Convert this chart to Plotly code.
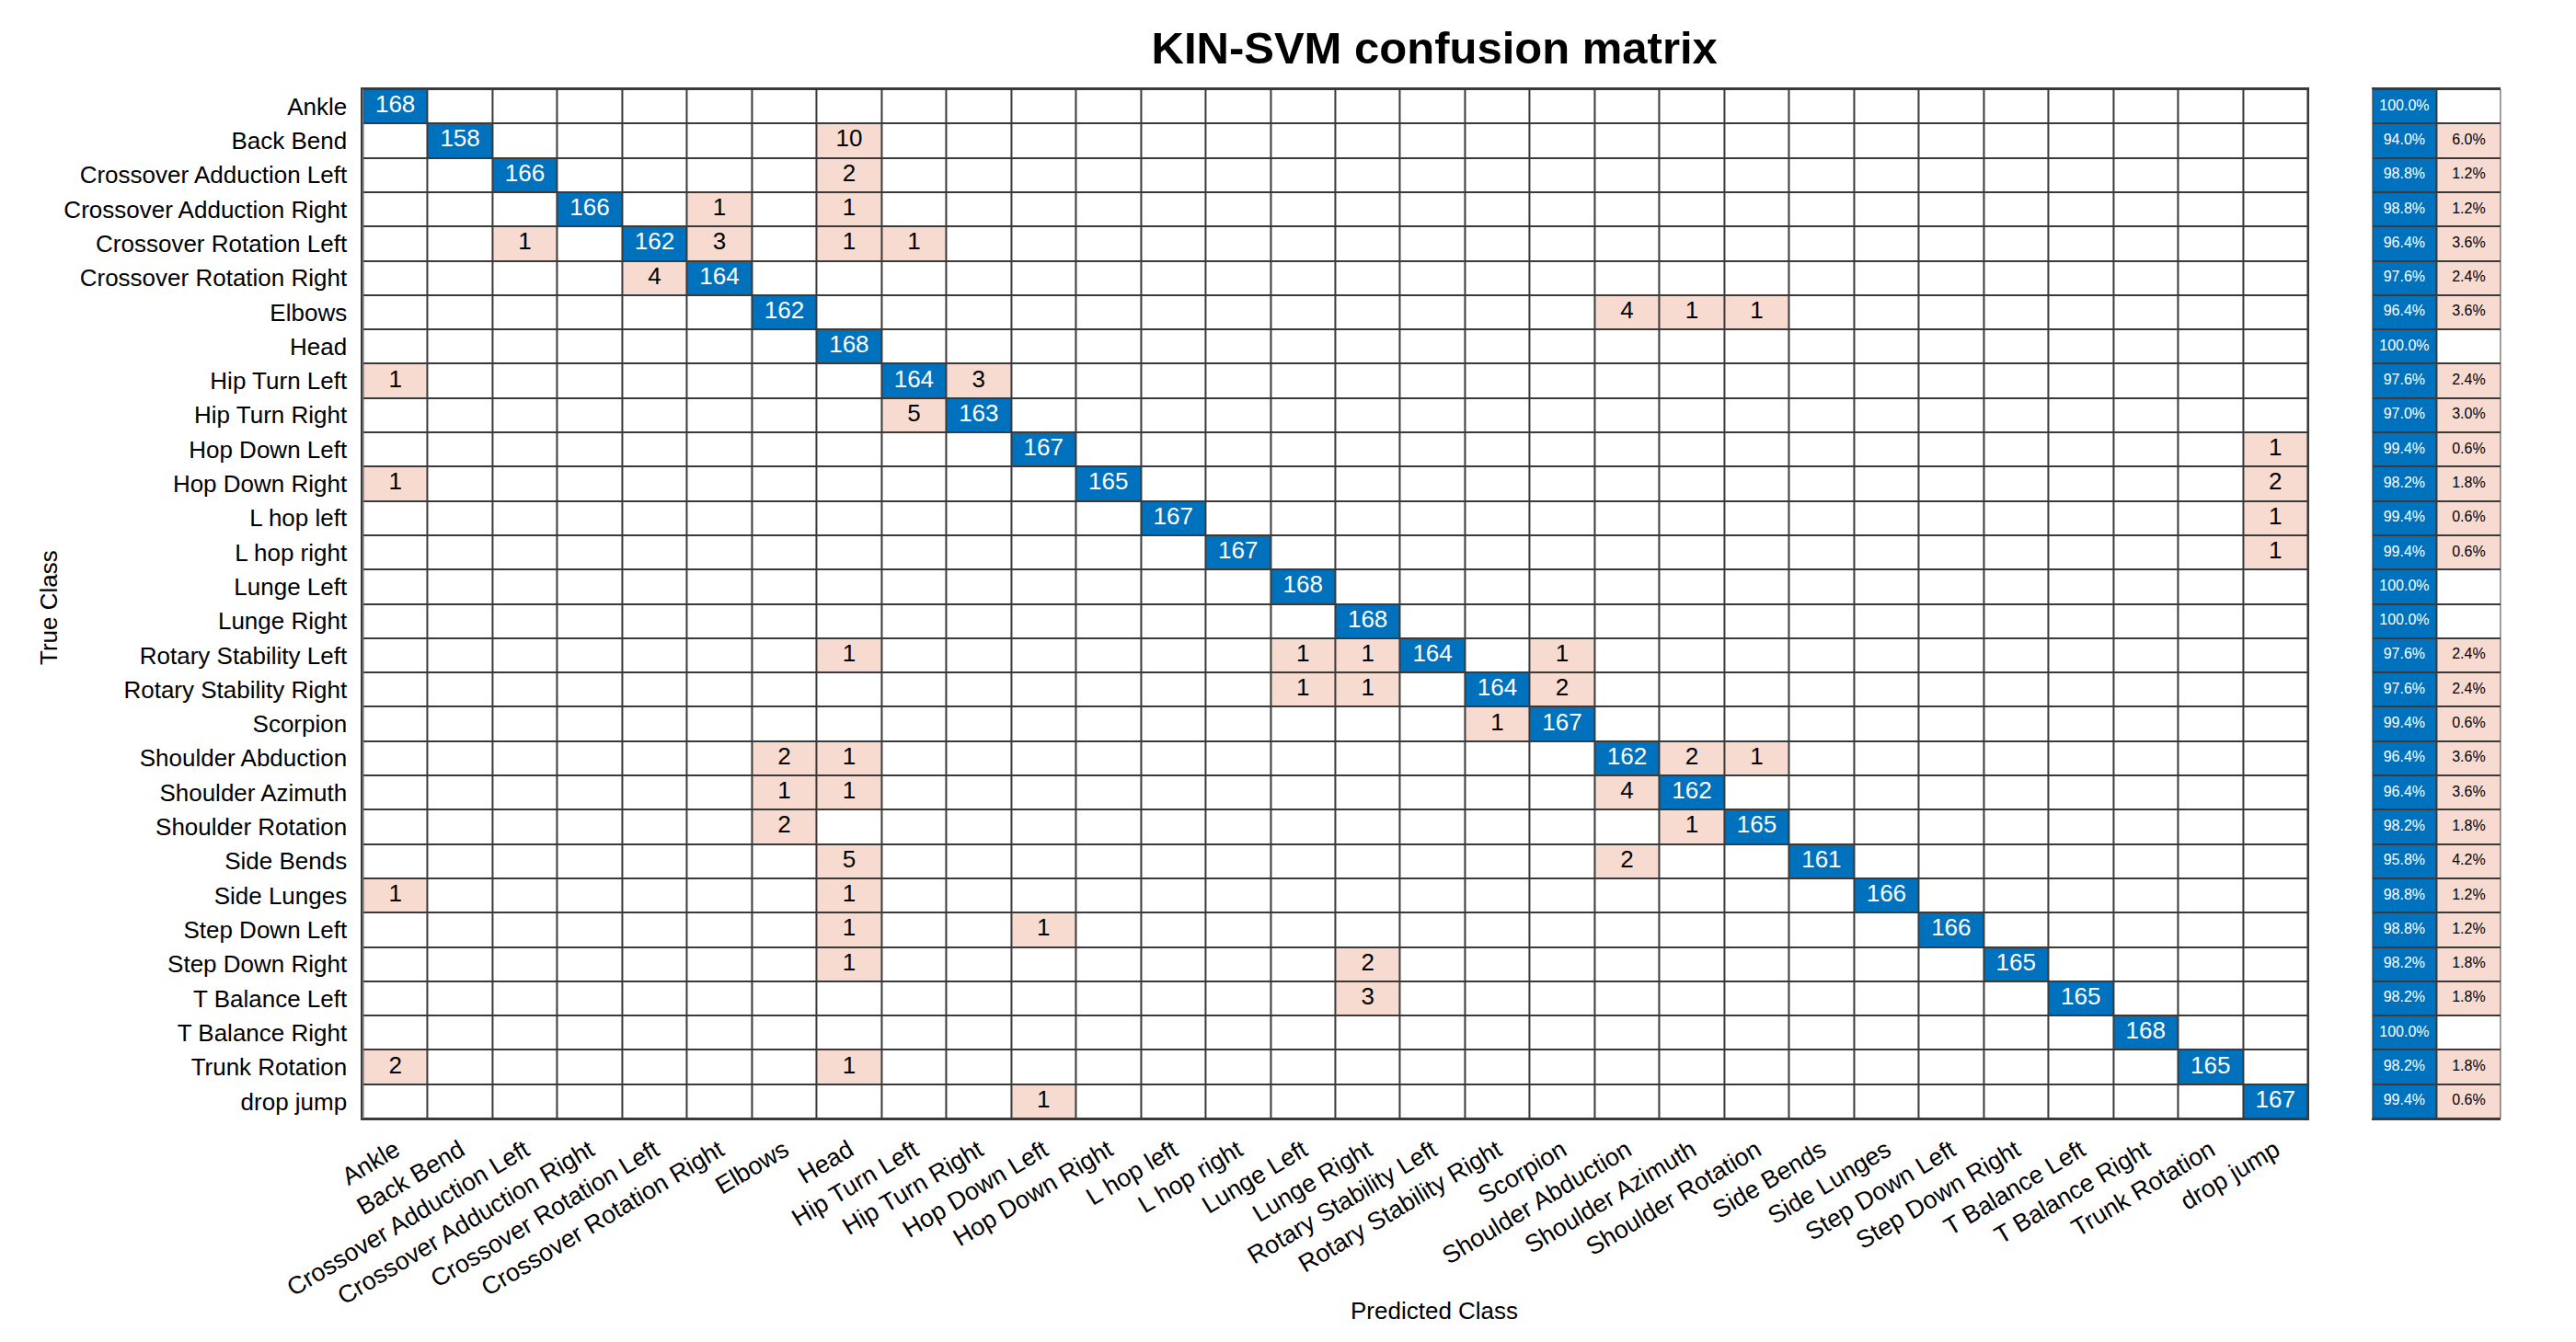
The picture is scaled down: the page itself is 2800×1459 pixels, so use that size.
import plotly.graph_objects as go

classes = ['Ankle', 'Back Bend', 'Crossover Adduction Left', 'Crossover Adduction Right',
           'Crossover Rotation Left', 'Crossover Rotation Right', 'Elbows', 'Head',
           'Hip Turn Left', 'Hip Turn Right', 'Hop Down Left', 'Hop Down Right',
           'L hop left', 'L hop right', 'Lunge Left', 'Lunge Right',
           'Rotary Stability Left', 'Rotary Stability Right', 'Scorpion',
           'Shoulder Abduction', 'Shoulder Azimuth', 'Shoulder Rotation', 'Side Bends',
           'Side Lunges', 'Step Down Left', 'Step Down Right', 'T Balance Left',
           'T Balance Right', 'Trunk Rotation', 'drop jump']

# correct counts on the diagonal, one per true class
diag_counts = [168, 158, 166, 166, 162, 164, 162, 168, 164, 163, 167, 165, 167, 167, 168,
               168, 164, 164, 167, 162, 162, 165, 161, 166, 166, 165, 165, 168, 165, 167]

# misclassifications: (true class, predicted class, count)
errors = [
    ('Back Bend', 'Head', 10),
    ('Crossover Adduction Left', 'Head', 2),
    ('Crossover Adduction Right', 'Crossover Rotation Right', 1),
    ('Crossover Adduction Right', 'Head', 1),
    ('Crossover Rotation Left', 'Crossover Adduction Left', 1),
    ('Crossover Rotation Left', 'Crossover Rotation Right', 3),
    ('Crossover Rotation Left', 'Head', 1),
    ('Crossover Rotation Left', 'Hip Turn Left', 1),
    ('Crossover Rotation Right', 'Crossover Rotation Left', 4),
    ('Elbows', 'Shoulder Abduction', 4),
    ('Elbows', 'Shoulder Azimuth', 1),
    ('Elbows', 'Shoulder Rotation', 1),
    ('Hip Turn Left', 'Ankle', 1),
    ('Hip Turn Left', 'Hip Turn Right', 3),
    ('Hip Turn Right', 'Hip Turn Left', 5),
    ('Hop Down Left', 'drop jump', 1),
    ('Hop Down Right', 'Ankle', 1),
    ('Hop Down Right', 'drop jump', 2),
    ('L hop left', 'drop jump', 1),
    ('L hop right', 'drop jump', 1),
    ('Rotary Stability Left', 'Head', 1),
    ('Rotary Stability Left', 'Lunge Left', 1),
    ('Rotary Stability Left', 'Lunge Right', 1),
    ('Rotary Stability Left', 'Scorpion', 1),
    ('Rotary Stability Right', 'Lunge Left', 1),
    ('Rotary Stability Right', 'Lunge Right', 1),
    ('Rotary Stability Right', 'Scorpion', 2),
    ('Scorpion', 'Rotary Stability Right', 1),
    ('Shoulder Abduction', 'Elbows', 2),
    ('Shoulder Abduction', 'Head', 1),
    ('Shoulder Abduction', 'Shoulder Azimuth', 2),
    ('Shoulder Abduction', 'Shoulder Rotation', 1),
    ('Shoulder Azimuth', 'Elbows', 1),
    ('Shoulder Azimuth', 'Head', 1),
    ('Shoulder Azimuth', 'Shoulder Abduction', 4),
    ('Shoulder Rotation', 'Elbows', 2),
    ('Shoulder Rotation', 'Shoulder Azimuth', 1),
    ('Side Bends', 'Head', 5),
    ('Side Bends', 'Shoulder Abduction', 2),
    ('Side Lunges', 'Ankle', 1),
    ('Side Lunges', 'Head', 1),
    ('Step Down Left', 'Head', 1),
    ('Step Down Left', 'Hop Down Left', 1),
    ('Step Down Right', 'Head', 1),
    ('Step Down Right', 'Lunge Right', 2),
    ('T Balance Left', 'Lunge Right', 3),
    ('Trunk Rotation', 'Ankle', 2),
    ('Trunk Rotation', 'Head', 1),
    ('drop jump', 'Hop Down Left', 1),
]

BLUE = '#0072BD'
PINK = '#F7DBD1'
GRID = '#3a3a3a'
FONT = 'Liberation Sans'

n = len(classes)
idx = {c: i for i, c in enumerate(classes)}
cm = [[0] * n for _ in range(n)]
for i, v in enumerate(diag_counts):
    cm[i][i] = v
for t, p, v in errors:
    cm[idx[t]][idx[p]] = v

# cell category: 0 empty, 1 wrong, 2 correct
z = [[(2 if i == j else 1) if cm[i][j] else 0 for j in range(n)] for i in range(n)]
cscale = [[0, 'white'], [0.33, 'white'], [0.33, PINK], [0.67, PINK], [0.67, BLUE], [1, BLUE]]

fig = go.Figure()
fig.add_trace(go.Heatmap(x=classes, y=classes, z=z, colorscale=cscale, zmin=0, zmax=2,
                         showscale=False, xgap=2, ygap=2, hoverinfo='skip'))

tx, ty, tt, tc = [], [], [], []
for i in range(n):
    for j in range(n):
        if cm[i][j]:
            tx.append(classes[j]); ty.append(classes[i]); tt.append(str(cm[i][j]))
            tc.append('white' if i == j else 'black')
fig.add_trace(go.Scatter(x=tx, y=ty, text=tt, mode='text', hoverinfo='skip',
                         textfont=dict(family=FONT, size=26, color=tc), showlegend=False))

# row summary (true positive rate / false negative rate)
summ_cols = ['tpr', 'fnr']
zs, sx, sy, st, sc = [], [], [], [], []
for i in range(n):
    tot = sum(cm[i])
    good = 100.0 * cm[i][i] / tot
    bad = 100.0 - good
    zs.append([2, 1 if bad > 0.01 else 0])
    sx.append('tpr'); sy.append(classes[i]); st.append(f'{good:.1f}%'); sc.append('white')
    if bad > 0.01:
        sx.append('fnr'); sy.append(classes[i]); st.append(f'{bad:.1f}%'); sc.append('black')

fig.add_trace(go.Heatmap(x=summ_cols, y=classes, z=zs, colorscale=cscale, zmin=0, zmax=2,
                         showscale=False, xgap=2, ygap=2, hoverinfo='skip',
                         xaxis='x2', yaxis='y'))
fig.add_trace(go.Scatter(x=sx, y=sy, text=st, mode='text', hoverinfo='skip',
                         textfont=dict(family=FONT, size=16, color=sc), showlegend=False,
                         xaxis='x2', yaxis='y'))

axline = dict(showline=True, mirror=True, linecolor=GRID, linewidth=2, ticks='',
              showgrid=False, zeroline=False, automargin=False)
fig.update_layout(
    width=2800, height=1459,
    margin=dict(l=0, r=0, t=0, b=0),
    paper_bgcolor='white', plot_bgcolor=GRID,
    font=dict(family=FONT, size=26, color='black'),
    title=dict(text='<b>KIN-SVM confusion matrix</b>', x=0.554, xanchor='center',
               y=0.970, yanchor='middle', font=dict(family=FONT, size=49, color='black')),
    xaxis=dict(domain=[0.1380, 0.8930], range=[-0.5, n - 0.5], tickangle=-31,
               tickfont=dict(size=27), ticklabelstandoff=6, **axline),
    xaxis2=dict(domain=[0.9180, 0.9680], range=[-0.5, 1.5], showticklabels=False,
                anchor='y', **axline),
    yaxis=dict(domain=[0.1720, 0.9390], range=[n - 0.5, -0.5], tickfont=dict(size=26),
               ticklabelstandoff=10, **axline),
    showlegend=False,
    annotations=[
        dict(text='Predicted Class', x=0.554, y=0.029, xref='paper', yref='paper',
             xanchor='center', yanchor='middle', showarrow=False, font=dict(size=26)),
        dict(text='True Class', x=0.016, y=0.553, xref='paper', yref='paper',
             xanchor='center', yanchor='middle', showarrow=False, textangle=-90,
             font=dict(size=26)),
    ],
)

fig.write_html("out.html")
